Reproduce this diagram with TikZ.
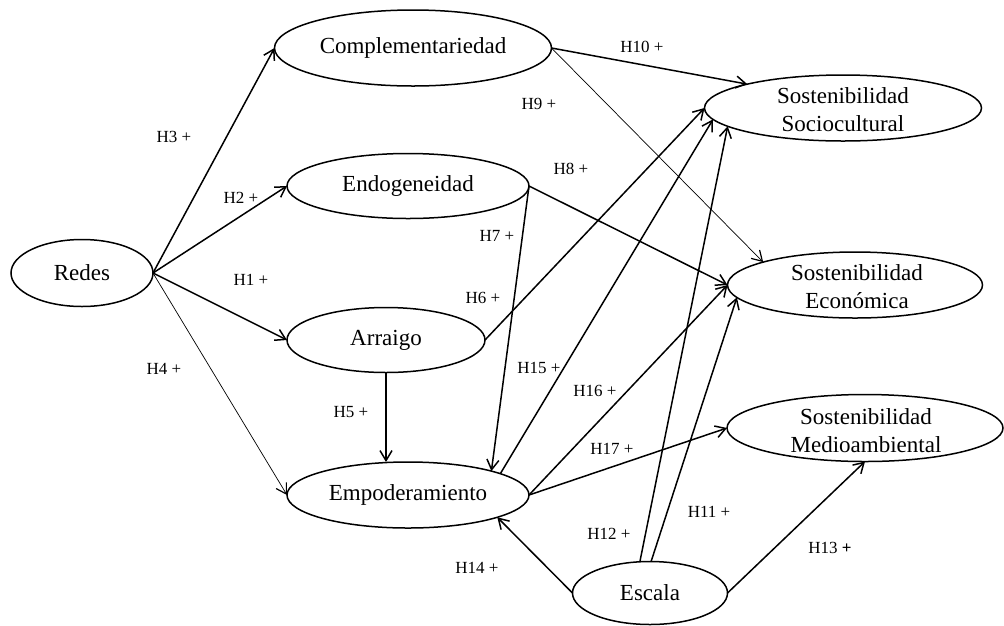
\documentclass[tikz,border=0pt]{standalone}
\usepackage{fontspec}
\setmainfont{Liberation Serif}
\usetikzlibrary{shapes.geometric,arrows.meta}
\begin{document}
\begin{tikzpicture}[x=1pt,y=-1pt,
  ell/.style={draw,ellipse,line width=1.5pt,inner sep=0pt,outer sep=0pt,font=\fontsize{23}{28}\selectfont},
  lbl/.style={font=\fontsize{23}{28}\selectfont,align=center,inner sep=0pt},
  hyp/.style={font=\fontsize{17}{20}\selectfont,inner sep=0pt},
  conn/.style={line width=1.5pt,-{Straight Barb[length=10pt,width=12pt,line width=1.5pt]}},
  connthin/.style={line width=0.7pt,-{Straight Barb[length=10pt,width=12pt,line width=1.2pt]}}]
\useasboundingbox (0,0) rectangle (1004,625);
% nodes
\node[ell,minimum width=142pt,minimum height=67pt] (redes) at (82,273) {Redes};
\node[ell,minimum width=277pt,minimum height=76pt] (comp) at (413,48) {Complementariedad};
\node[ell,minimum width=242pt,minimum height=65pt] (endo) at (408,186) {Endogeneidad};
\node[ell,minimum width=198pt,minimum height=65pt] (arr) at (386,340) {Arraigo};
\node[ell,minimum width=242pt,minimum height=66pt] (emp) at (408,495) {Empoderamiento};
\node[ell,minimum width=155pt,minimum height=63pt] (esc) at (650,593) {Escala};
\node[ell,minimum width=277pt,minimum height=66pt] (soc) at (843,108) {};
\node[lbl] (socT) at (843,110) {Sostenibilidad\\Sociocultural};
\node[ell,minimum width=255pt,minimum height=66pt] (eco) at (855,285) {};
\node[lbl] (ecoT) at (857,287) {Sostenibilidad\\Económica};
\node[ell,minimum width=276pt,minimum height=67pt] (med) at (865,428) {};
\node[lbl] (medT) at (866,431) {Sostenibilidad\\Medioambiental};
% connectors
\draw[conn] (redes.east) -- (comp.west);
\draw[conn] (redes.east) -- (endo.west);
\draw[conn] (redes.east) -- (arr.west);
\draw[connthin] (redes.east) -- (emp.west);
\draw[conn] (arr.south) -- (arr.south |- emp.north);
\draw[conn] (endo.east) -- (emp.16);
\draw[conn] (endo.east) -- (eco.west);
\draw[conn] (comp.east) -- (soc.166);
\draw[connthin] (comp.east) -- (eco.166);
\draw[conn] (arr.east) -- (soc.west);
\draw[conn] (emp.13) -- (soc.185);
\draw[conn] (emp.east) -- (eco.west);
\draw[conn] (emp.east) -- (med.west);
\draw[conn] (esc.west) -- (emp.-14);
\draw[conn] (esc.108) -- (soc.189);
\draw[conn] (esc.88) -- (eco.186);
\draw[conn] (esc.east) -- (med.south);
% labels
\node[hyp] (h3) at (174,137) {H3 +};
\node[hyp] (h2) at (241,198) {H2 +};
\node[hyp] (h1) at (251,280) {H1 +};
\node[hyp] (h4) at (164,369) {H4 +};
\node[hyp] (h5) at (351,412) {H5 +};
\node[hyp] (h14) at (477,568) {H14 +};
\node[hyp] (h10) at (642,47) {H10 +};
\node[hyp] (h9) at (539,104) {H9 +};
\node[hyp] (h8) at (571,169) {H8 +};
\node[hyp] (h7) at (497,236) {H7 +};
\node[hyp] (h6) at (483,298) {H6 +};
\node[hyp] (h15) at (539,368) {H15 +};
\node[hyp] (h16) at (595,391) {H16 +};
\node[hyp] (h17) at (612,449) {H17 +};
\node[hyp] (h12) at (609,534) {H12 +};
\node[hyp] (h11) at (709,512) {H11 +};
\node[hyp] (h13) at (830,548) {H13 \textbf{+}};
\end{tikzpicture}
\end{document}
